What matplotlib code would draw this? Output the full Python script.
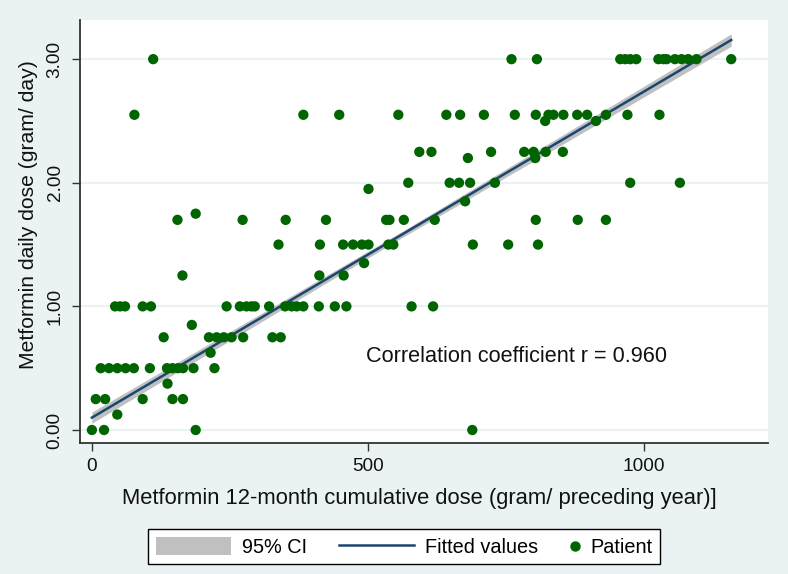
import numpy as np
import matplotlib
matplotlib.use("Agg")
import matplotlib.pyplot as plt
from matplotlib.lines import Line2D
from matplotlib.patches import Patch
from matplotlib.legend_handler import HandlerBase

plt.rcParams['font.family'] = ['Liberation Sans', 'DejaVu Sans']

# ---- data: daily dose level -> cumulative doses of patients at that level ----
dose_levels = [0.0, 0.125, 0.25, 0.375, 0.5, 0.625, 0.75, 0.85, 1.0, 1.25, 1.35,
               1.5, 1.7, 1.75, 1.85, 1.95, 2.0, 2.2, 2.25, 2.5, 2.55, 3.0]
cum_at_0_00 = [0, 22, 188, 689]
cum_at_0_125 = [46]
cum_at_0_25 = [7, 24, 92, 146, 165]
cum_at_0_375 = [137]
cum_at_0_50 = [16, 31, 46, 61, 76, 105, 136, 146, 156, 165, 184, 222]
cum_at_0_625 = [215]
cum_at_0_75 = [130, 212, 226, 239, 253, 274, 327, 342]
cum_at_0_85 = [181]
cum_at_1_00 = [42, 51, 60, 92, 107, 244, 268, 280, 289, 295, 321, 350, 362, 371,
               383, 411, 440, 461, 579, 618]
cum_at_1_25 = [164, 412, 456]
cum_at_1_35 = [493]
cum_at_1_50 = [338, 413, 455, 473, 489, 501, 537, 546, 690, 754, 808]
cum_at_1_70 = [155, 273, 351, 424, 533, 539, 565, 621, 804, 880, 931]
cum_at_1_75 = [188]
cum_at_1_85 = [676]
cum_at_1_95 = [501]
cum_at_2_00 = [573, 648, 665, 685, 730, 975, 1065]
cum_at_2_20 = [681, 803]
cum_at_2_25 = [593, 615, 723, 783, 800, 822, 853]
cum_at_2_50 = [821, 913]
cum_at_2_55 = [77, 383, 448, 555, 642, 667, 710, 766, 804, 827, 836, 854, 879, 897,
               931, 970, 1028]
cum_at_3_00 = [111, 760, 806, 957, 966, 975, 986, 1026, 1035, 1041, 1056, 1068,
               1080, 1095, 1158]

groups = [cum_at_0_00, cum_at_0_125, cum_at_0_25, cum_at_0_375, cum_at_0_50,
          cum_at_0_625, cum_at_0_75, cum_at_0_85, cum_at_1_00, cum_at_1_25,
          cum_at_1_35, cum_at_1_50, cum_at_1_70, cum_at_1_75, cum_at_1_85,
          cum_at_1_95, cum_at_2_00, cum_at_2_20, cum_at_2_25, cum_at_2_50,
          cum_at_2_55, cum_at_3_00]

# fitted line and its 95% CI
fit_x = [0, 560, 1158]
fit_y = [0.10, 1.577, 3.155]
ci_half = [0.045, 0.025, 0.050]

x_ticks = [0, 500, 1000]
y_ticks = [0.0, 1.0, 2.0, 3.0]
annotation = "Correlation coefficient r = 0.960"
x_label = "Metformin 12-month cumulative dose (gram/ preceding year)]"
y_label = "Metformin daily dose (gram/ day)"
legend_labels = ["95% CI", "Fitted values", "Patient"]

x = np.concatenate([np.asarray(g, float) for g in groups])
y = np.concatenate([np.full(len(g), lvl) for g, lvl in zip(groups, dose_levels)])

fx = np.asarray(fit_x, float)
fy = np.asarray(fit_y, float)
fc = np.asarray(ci_half, float)

BG = "#eaf2f3"
GREEN = "#006400"
NAVY = "#1a476f"
GRAY = "#c0c0c0"

fig = plt.figure(figsize=(7.88, 5.74), dpi=100, facecolor=BG)
ax = fig.add_axes([0.1019, 0.2287, 0.8723, 0.7365])
ax.set_facecolor("white")

ax.fill_between(fx, fy - fc, fy + fc, color=GRAY, linewidth=0, zorder=2)
ax.plot(fx, fy, color=NAVY, linewidth=1.8, zorder=3)
ax.scatter(x, y, s=55, color=GREEN, edgecolors="none", zorder=4)

ax.text(496, 0.593, annotation, fontsize=15.6, va="center", ha="left", color="#111111")

ax.set_xlim(-21, 1224)
ax.set_ylim(-0.103, 3.317)
ax.set_xticks(x_ticks)
ax.set_xticklabels([str(t) for t in x_ticks])
ax.set_yticks(y_ticks)
ax.set_yticklabels(["%.2f" % t for t in y_ticks], rotation=90, va="center")
ax.tick_params(axis="both", labelsize=13.7, length=6, width=1.0, color="#333333",
               labelcolor="#111111")
ax.tick_params(axis="y", pad=6)
ax.tick_params(axis="x", pad=5)
ax.grid(axis="y", color=BG, linewidth=1.5, zorder=0)
ax.set_axisbelow(True)
for side in ["top", "right"]:
    ax.spines[side].set_visible(False)
for side in ["left", "bottom"]:
    ax.spines[side].set_color("#333333")
    ax.spines[side].set_linewidth(1.3)

ax.set_xlabel(x_label, fontsize=15.8, color="#111111")
ax.set_ylabel(y_label, fontsize=15.2, color="#111111")
ax.xaxis.set_label_coords(0.493, -0.106)
ax.yaxis.set_label_coords(-0.062, 0.539)


class DotHandler(HandlerBase):
    def create_artists(self, legend, orig_handle, xdescent, ydescent, width,
                       height, fontsize, trans):
        ln = Line2D([3.5 - xdescent], [height / 2 - ydescent], marker="o",
                    markersize=6.5, color=GREEN, linestyle="none", transform=trans)
        return [ln]


class DotKey:
    pass


handles = [Patch(facecolor=GRAY, edgecolor="none"),
           Line2D([], [], color=NAVY, linewidth=1.8),
           DotKey()]
leg = fig.legend(handles, legend_labels, loc="center", bbox_to_anchor=(0.513, 0.0473),
                 ncol=3, fontsize=14.3, frameon=True, fancybox=False, edgecolor="black",
                 facecolor="white", framealpha=1, handlelength=3.8, handleheight=1.06,
                 handletextpad=0.55, columnspacing=1.6, borderpad=0.37,
                 handler_map={DotKey: DotHandler()})
leg.get_frame().set_linewidth(1.0)
try:
    cols = leg._legend_handle_box.get_children()
    da = cols[2].get_children()[0].get_children()[0]
    da.width = 7
except Exception:
    pass

fig.savefig("out.png", dpi=100, facecolor=BG)
